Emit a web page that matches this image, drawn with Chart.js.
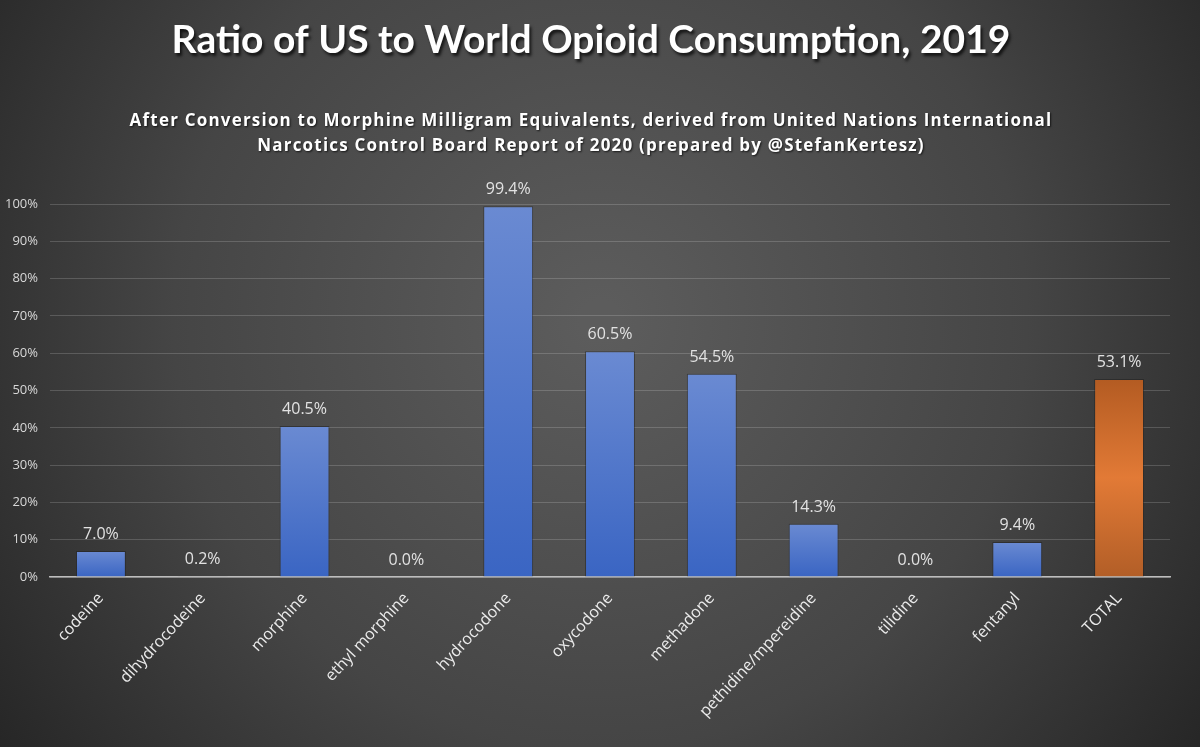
<!DOCTYPE html>
<html>
<head>
<meta charset="utf-8">
<script src="https://cdn.jsdelivr.net/npm/chart.js@4.4.1/dist/chart.umd.min.js"></script>
<style>
  html, body { margin: 0; padding: 0; background: #333; }
  #wrap { width: 1200px; height: 747px; }
</style>
</head>
<body>
<div id="wrap"><canvas id="opioid-chart" width="1200" height="747"></canvas></div>
<script>
// data
var drugs = ['codeine', 'dihydrocodeine', 'morphine', 'ethyl morphine', 'hydrocodone', 'oxycodone',
             'methadone', 'pethidine/mpereidine', 'tilidine', 'fentanyl', 'TOTAL'];
var ratios = [7.0, 0.2, 40.5, 0.0, 99.4, 60.5, 54.5, 14.3, 0.0, 9.4, 53.1];
var yTicks = [0, 10, 20, 30, 40, 50, 60, 70, 80, 90, 100];

var titleText = 'Ratio of US to World Opioid Consumption, 2019';
var subLines = ['After Conversion to Morphine Milligram Equivalents, derived from United Nations International',
                'Narcotics Control Board Report of 2020 (prepared by @StefanKertesz)'];

var bgPlugin = {
    id: 'bg',
    beforeDraw: function(chart) {
        var ctx = chart.ctx;
        ctx.save();
        var g = ctx.createRadialGradient(600, 320, 20, 600, 320, 760);
        g.addColorStop(0, '#5c5c5c');
        g.addColorStop(0.55, '#454545');
        g.addColorStop(1, '#242424');
        ctx.fillStyle = g;
        ctx.fillRect(0, 0, chart.width, chart.height);
        ctx.restore();
    },
    afterDraw: function(chart) {
        var ctx = chart.ctx;
        ctx.save();
        ctx.textAlign = 'center';
        ctx.textBaseline = 'middle';
        ctx.fillStyle = '#ffffff';
        ctx.shadowColor = 'rgba(0,0,0,0.7)';
        ctx.shadowOffsetX = 2;
        ctx.shadowOffsetY = 3;
        ctx.shadowBlur = 3;
        ctx.font = 'bold 39px Lato';
        ctx.fillText(titleText, 591, 40);
        ctx.shadowOffsetX = 1;
        ctx.shadowOffsetY = 1;
        ctx.shadowBlur = 2;
        ctx.font = 'bold 17px "Open Sans"';
        ctx.letterSpacing = '1.2px';
        ctx.fillText(subLines[0], 591, 121);
        ctx.fillText(subLines[1], 591, 146);
        ctx.restore();
    }
};

var labelPlugin = {
    id: 'valueLabels',
    afterDatasetsDraw: function(chart) {
        var ctx = chart.ctx;
        var meta = chart.getDatasetMeta(0);
        ctx.save();
        ctx.fillStyle = '#e2e2e2';
        ctx.font = '16px "Open Sans"';
        ctx.textAlign = 'center';
        ctx.textBaseline = 'alphabetic';
        meta.data.forEach(function(bar, i) {
            ctx.fillText(ratios[i].toFixed(1) + '%', bar.x, bar.y - 12);
        });
        ctx.restore();
    }
};

function barFill(context) {
    var chart = context.chart;
    if (!chart.chartArea) return '#4472c4';
    var i = context.dataIndex;
    var y = chart.scales.y;
    var top = y.getPixelForValue(ratios[i]);
    var bottom = y.getPixelForValue(0);
    if (bottom - top < 2) top = bottom - 2;
    var g = chart.ctx.createLinearGradient(0, top, 0, bottom);
    if (drugs[i] === 'TOTAL') {
        g.addColorStop(0, '#b35b22');
        g.addColorStop(0.5, '#e27a36');
        g.addColorStop(1, '#b25e27');
    } else {
        g.addColorStop(0, '#6a8ad2');
        g.addColorStop(1, '#3a65c3');
    }
    return g;
}

new Chart(document.getElementById('opioid-chart'), {
    type: 'bar',
    data: {
        labels: drugs,
        datasets: [{
            label: 'US / World',
            data: ratios,
            backgroundColor: barFill,
            borderColor: 'rgba(30,30,30,0.5)',
            borderWidth: 1,
            barPercentage: 0.49,
            categoryPercentage: 1.0
        }]
    },
    options: {
        responsive: false,
        animation: false,
        layout: { padding: { left: 0, right: 30, top: 204, bottom: 0 } },
        plugins: {
            legend: { display: false },
            title: { display: false },
            tooltip: { enabled: false }
        },
        scales: {
            x: {
                afterFit: function(scale) { scale.height = 170; },
                grid: { display: false },
                border: { color: '#bdbdbd', width: 1.5 },
                ticks: {
                    color: '#ebebeb',
                    font: { family: '"Open Sans"', size: 16 },
                    minRotation: 47,
                    maxRotation: 47,
                    autoSkip: false,
                    padding: 4
                }
            },
            y: {
                min: 0,
                max: 100,
                afterFit: function(scale) { scale.width = 50; },
                afterBuildTicks: function(scale) {
                    scale.ticks = yTicks.map(function(v) { return { value: v }; });
                },
                grid: { color: 'rgba(255,255,255,0.17)', drawTicks: false, lineWidth: 1 },
                border: { display: false },
                ticks: {
                    color: '#d8d8d8',
                    font: { family: '"Open Sans"', size: 13 },
                    padding: 12,
                    callback: function(v) { return v + '%'; }
                }
            }
        }
    },
    plugins: [bgPlugin, labelPlugin]
});
</script>
</body>
</html>
